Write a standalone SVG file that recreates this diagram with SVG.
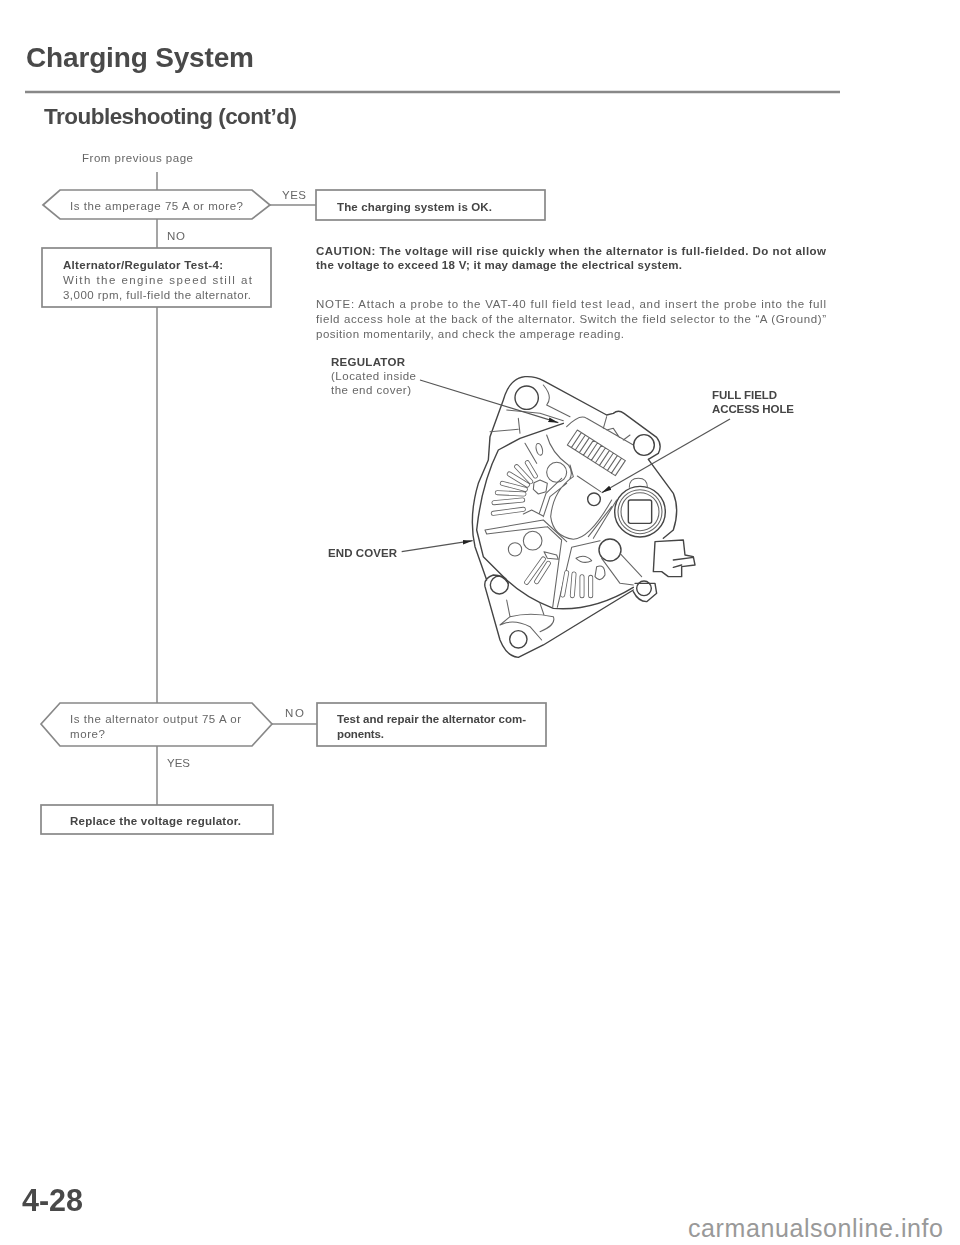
<svg xmlns="http://www.w3.org/2000/svg" width="960" height="1245" viewBox="0 0 960 1245">
<style>
text{font-family:"Liberation Sans",Arial,sans-serif;fill:#666}
.b{font-weight:bold;fill:#444}
.t{font-size:11.5px}
.h{font-weight:bold;fill:#4a4a4a}
.shape{fill:#fff;stroke:#888;stroke-width:1.7}
.conn{fill:none;stroke:#888;stroke-width:1.5}
.d{fill:none;stroke:#444;stroke-width:4.2;stroke-linejoin:round;stroke-linecap:round}
.d2{fill:none;stroke:#666;stroke-width:3.2;stroke-linejoin:round;stroke-linecap:round}
.cap0{fill:none;stroke:#666;stroke-width:15;stroke-linecap:round}
.cap1{fill:none;stroke:#fff;stroke-width:10;stroke-linecap:round}
.lead{fill:none;stroke:#555;stroke-width:3.6}
</style>
<defs>
<filter id="soft" x="0" y="0" width="960" height="1245" filterUnits="userSpaceOnUse"><feGaussianBlur stdDeviation="0.7"/></filter>
<marker id="arr" markerUnits="userSpaceOnUse" markerWidth="34" markerHeight="20" refX="30" refY="10" orient="auto"><path d="M0 3L30 10L0 17Z" fill="#222"/></marker>
<path id="fins" d="M460 490L550 478M462 458L548 450M472 428L552 432M487 400L556 418M508 372L562 405M530 350L572 395M562 338L586 378M560 697L610 627M590 695L625 640M668 735L680 668M697 737L702 672M726 737L726 680M752 737L752 682"/>
</defs>
<rect width="960" height="1245" fill="#fff"/>
<g filter="url(#soft)">
<g id="header">
<text class="h" x="26" y="67" font-size="28" textLength="228">Charging System</text>
<line x1="25" y1="92" x2="840" y2="92" stroke="#888" stroke-width="2.4"/>
<text class="h" x="44" y="124" font-size="22.5" textLength="253">Troubleshooting (cont’d)</text>
</g>
<g id="connectors">
<path class="conn" d="M157 172V190M157 219V248M157 307V703M157 746V805M270 205H316M272 724H317"/>
</g>
<g id="labels">
<text class="t" x="82" y="162" textLength="111">From previous page</text>
<text class="t" x="282" y="199" textLength="24">YES</text>
<text class="t" x="167" y="240" textLength="18">NO</text>
<text class="t" x="285" y="717" textLength="19">NO</text>
<text class="t" x="167" y="767" textLength="23">YES</text>
</g>
<g id="decision-amperage">
<polygon class="shape" points="43,205 60,190 252,190 270,205 252,219 60,219"/>
<text class="t" x="70" y="210" textLength="173">Is the amperage 75 A or more?</text>
</g>
<g id="box-test4">
<rect class="shape" x="42" y="248" width="229" height="59"/>
<text class="t b" x="63" y="269" textLength="160">Alternator/Regulator Test-4:</text>
<text class="t" x="63" y="284" textLength="189">With the engine speed still at</text>
<text class="t" x="63" y="299" textLength="188">3,000 rpm, full-field the alternator.</text>
</g>
<g id="box-ok">
<rect class="shape" x="316" y="190" width="229" height="30"/>
<text class="t b" x="337" y="211" textLength="155">The charging system is OK.</text>
</g>
<g id="caution">
<text class="t b" x="316" y="255" textLength="510">CAUTION:  The voltage will rise quickly when the alternator is full-fielded. Do not allow</text>
<text class="t b" x="316" y="269" textLength="366">the voltage to exceed 18 V; it may damage the electrical system.</text>
</g>
<g id="note">
<text class="t" x="316" y="308" textLength="510">NOTE:  Attach a probe to the VAT-40 full field test lead, and insert the probe into the full</text>
<text class="t" x="316" y="323" textLength="510">field access hole at the back of the alternator. Switch the field selector to the “A (Ground)”</text>
<text class="t" x="316" y="338" textLength="308">position momentarily, and check the amperage reading.</text>
</g>
<g id="alternator" transform="translate(340 350) scale(.33333)">
<path class="d" d="M490 150Q508 85 555 80Q585 78 610 92L800 195M800 195L820 190Q835 178 852 190L950 262Q968 285 955 310L925 328M925 328L1000 430Q1020 480 1000 540L970 565M945 575L1030 570L1035 615L1060 620L1065 645L1025 650L1025 680L985 680L965 665L940 665ZM1000 630L1060 622M1000 652L1025 645M880 720L610 885L535 922Q500 920 480 870L435 710Q430 685 460 675Q490 675 505 700M885 700L945 700L950 730L920 755Q895 755 880 725M440 690L405 590Q385 500 415 400L445 330L450 260L490 150"/>
<path class="d" d="M670 220L540 265L475 300Q425 400 410 540L430 620L500 690Q560 745 640 775Q760 785 880 712"/>
<path class="d2" d="M680 230Q720 190 740 205L880 285M500 180L600 190L670 212M610 105Q640 140 620 165L690 200M535 205L540 250M450 245L535 238M800 200L790 235M800 240L820 235L838 262M850 270L870 255"/>
<circle class="d" cx="560" cy="143" r="35"/>
<circle class="d" cx="912" cy="285" r="31"/>
<circle class="d" cx="762" cy="448" r="19"/>
<circle class="d" cx="535" cy="868" r="26"/>
<circle class="d" cx="478" cy="705" r="27"/>
<circle class="d" cx="912" cy="715" r="22"/>
<circle class="d" cx="900" cy="485" r="76"/>
<circle class="d2" cx="900" cy="485" r="66"/>
<circle class="d2" cx="900" cy="485" r="57"/>
<rect class="d" x="865" y="450" width="70" height="70" rx="6"/>
<path class="d2" d="M868 412Q868 385 895 385Q922 385 922 412"/>
<path class="d2" d="M700 380Q640 420 632 500Q640 560 700 568Q750 565 815 450M712 378L782 425M690 345L700 380M815 470L745 560M830 450L760 565M680 400L630 440L610 500M665 385L618 430L598 490M620 255Q635 310 685 345Q700 365 690 385"/>
<circle class="d2" cx="650" cy="367" r="30"/>
<ellipse class="d2" cx="598" cy="298" rx="9" ry="18" transform="rotate(-15 598 298)"/>
<path class="d2" d="M555 280L590 340M600 390L622 400L618 425L595 432L580 418L582 398ZM550 492L575 480L608 497M435 540L610 510M440 552L622 530M435 540L440 552M622 530L665 570L638 772M610 510L680 575M652 772L695 592L780 572"/>
<path class="d2" d="M712 240L682 285M724 248L694 293M736 255L706 300M748 263L718 308M760 271L730 316M772 279L742 324M784 286L754 331M796 294L766 339M808 302L778 347M820 309L790 354M832 317L802 362M844 325L814 370M856 332L826 377M712 240L856 332M682 285L826 377"/>
<use href="#fins" class="cap0"/>
<use href="#fins" class="cap1"/>
<circle class="d2" cx="525" cy="598" r="20"/>
<circle class="d2" cx="578" cy="572" r="28"/>
<circle class="d" cx="810" cy="600" r="33"/>
<path class="d2" d="M840 610L905 680M785 625L840 700L880 705M612 605L650 615L655 628L622 625ZM708 625Q735 610 755 632Q730 645 708 625ZM770 650Q795 640 795 675Q780 700 765 680Z"/>
<path class="d2" d="M500 750L510 800L480 825M480 825Q520 805 570 830L605 870M510 800Q570 785 640 800Q650 825 600 845M612 795L600 760"/>
<path class="lead" marker-end="url(#arr)" d="M240 90L655 218"/>
<path class="lead" marker-end="url(#arr)" d="M1170 207L785 428"/>
<path class="lead" marker-end="url(#arr)" d="M185 605L398 572"/>
</g>
<g id="callouts">
<text class="t b" x="331" y="366" textLength="74">REGULATOR</text>
<text class="t" x="331" y="380" textLength="85">(Located inside</text>
<text class="t" x="331" y="394" textLength="80">the end cover)</text>
<text class="t b" x="712" y="399" textLength="65">FULL FIELD</text>
<text class="t b" x="712" y="413" textLength="82">ACCESS HOLE</text>
<text class="t b" x="328" y="557" textLength="69">END COVER</text>
</g>
<g id="decision-output">
<polygon class="shape" points="41,724 60,703 252,703 272,724 252,746 60,746"/>
<text class="t" x="70" y="723" textLength="171">Is the alternator output 75 A or</text>
<text class="t" x="70" y="738" textLength="35">more?</text>
</g>
<g id="box-repair">
<rect class="shape" x="317" y="703" width="229" height="43"/>
<text class="t b" x="337" y="723" textLength="189">Test and repair the alternator com-</text>
<text class="t b" x="337" y="738" textLength="47">ponents.</text>
</g>
<g id="box-replace">
<rect class="shape" x="41" y="805" width="232" height="29"/>
<text class="t b" x="70" y="825" textLength="171">Replace the voltage regulator.</text>
</g>
<g id="page-number">
<text class="h" x="22" y="1211" font-size="30.500" textLength="61">4-28</text>
</g>
</g>
<text x="688" y="1237" font-size="25" textLength="255" style="fill:#999">carmanualsonline.info</text>
</svg>
